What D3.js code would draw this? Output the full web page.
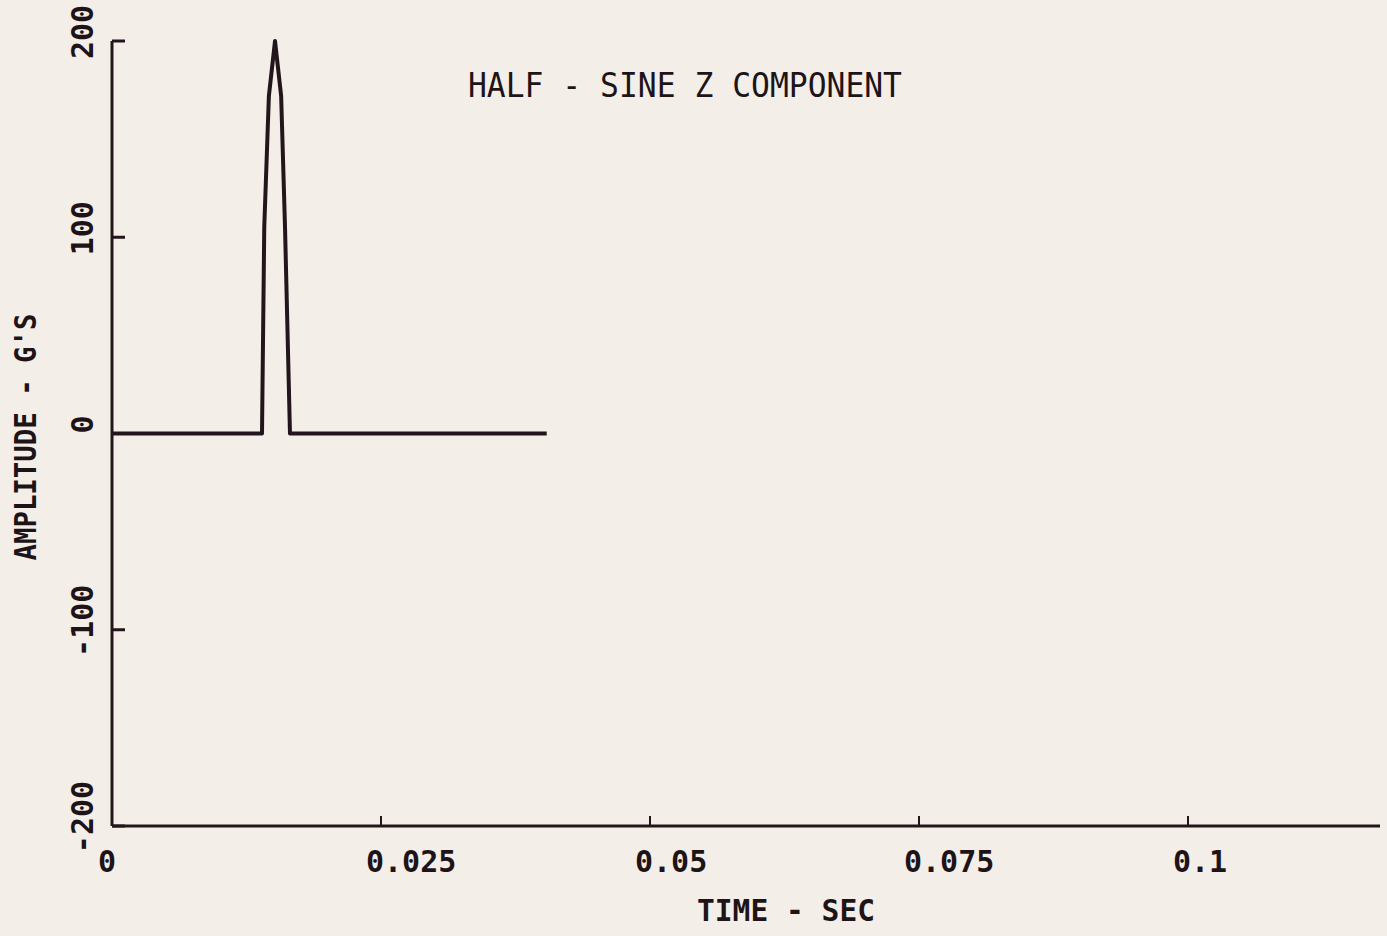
<!DOCTYPE html>
<html>
<head>
<meta charset="utf-8">
<script src="https://d3js.org/d3.v7.min.js"></script>
<style>
  html, body { margin: 0; padding: 0; background: #f4eee8; }
  svg { display: block; }
  .tick-label { font-family: "DejaVu Sans Mono", monospace; font-weight: bold; font-size: 30px; fill: #1e1418; }
  .title { font-family: "DejaVu Sans Mono", monospace; font-size: 34px; fill: #1e1418; }
</style>
</head>
<body>
<svg id="chart"></svg>
<script>
  // half-sine pulse samples (time in sec, amplitude in G's)
  const times = [0, 0.01394, 0.01415, 0.01458, 0.01515, 0.01572, 0.01608, 0.01654, 0.0404];
  const amps  = [0, 0, 105, 172, 200, 172, 105, 0, 0];

  const xTicks = [0, 0.025, 0.05, 0.075, 0.1];
  const xTickLabels = ["0", "0.025", "0.05", "0.075", "0.1"];
  const yTicks = [-200, -100, 0, 100, 200];

  const width = 1387, height = 936;
  const ink = "#22161c";

  const svg = d3.select("#chart")
    .attr("width", width)
    .attr("height", height);

  const x = d3.scaleLinear().domain([0, 0.1]).range([112, 1188]);
  const y = d3.scaleLinear().domain([-200, 200]).range([826, 41]);

  // axes
  svg.append("line")
    .attr("x1", x(0)).attr("x2", 1380)
    .attr("y1", y(-200)).attr("y2", y(-200))
    .attr("stroke", ink).attr("stroke-width", 3);

  svg.append("line")
    .attr("x1", x(0)).attr("x2", x(0))
    .attr("y1", y(-200)).attr("y2", y(200))
    .attr("stroke", ink).attr("stroke-width", 3);

  // y ticks point inward (right)
  svg.selectAll(".ytick")
    .data(yTicks)
    .enter().append("line")
    .attr("x1", x(0)).attr("x2", x(0) + 13)
    .attr("y1", d => y(d)).attr("y2", d => y(d))
    .attr("stroke", ink).attr("stroke-width", 3);

  // x ticks point inward (up)
  svg.selectAll(".xtick")
    .data(xTicks.slice(1))
    .enter().append("line")
    .attr("x1", d => x(d)).attr("x2", d => x(d))
    .attr("y1", y(-200)).attr("y2", y(-200) - 10)
    .attr("stroke", ink).attr("stroke-width", 2);

  // x tick labels
  svg.selectAll(".xlab")
    .data(xTicks)
    .enter().append("text")
    .attr("class", "tick-label")
    .attr("x", (d, i) => i === 0 ? x(d) - 14 : x(d) - 15)
    .attr("y", 872)
    .text((d, i) => xTickLabels[i]);

  // y tick labels, rotated
  svg.selectAll(".ylab")
    .data(yTicks)
    .enter().append("text")
    .attr("class", "tick-label")
    .attr("text-anchor", "middle")
    .attr("transform", d => `translate(93, ${y(d) - 9}) rotate(-90)`)
    .text(d => d);

  // axis titles
  svg.append("text")
    .attr("class", "tick-label")
    .attr("text-anchor", "middle")
    .attr("transform", "translate(36, 437) rotate(-90)")
    .attr("textLength", 247).attr("lengthAdjust", "spacingAndGlyphs")
    .text("AMPLITUDE - G'S");

  svg.append("text")
    .attr("class", "tick-label")
    .attr("text-anchor", "middle")
    .attr("x", 786).attr("y", 921)
    .attr("textLength", 178).attr("lengthAdjust", "spacingAndGlyphs")
    .text("TIME - SEC");

  svg.append("text")
    .attr("class", "title")
    .attr("x", 468).attr("y", 97)
    .attr("textLength", 434).attr("lengthAdjust", "spacingAndGlyphs")
    .text("HALF - SINE Z COMPONENT");

  // signal
  const line = d3.line()
    .x((d, i) => x(times[i]))
    .y(d => y(d));

  svg.append("path")
    .datum(amps)
    .attr("d", line)
    .attr("fill", "none")
    .attr("stroke", ink)
    .attr("stroke-width", 4)
    .attr("stroke-linejoin", "round");
</script>
</body>
</html>
